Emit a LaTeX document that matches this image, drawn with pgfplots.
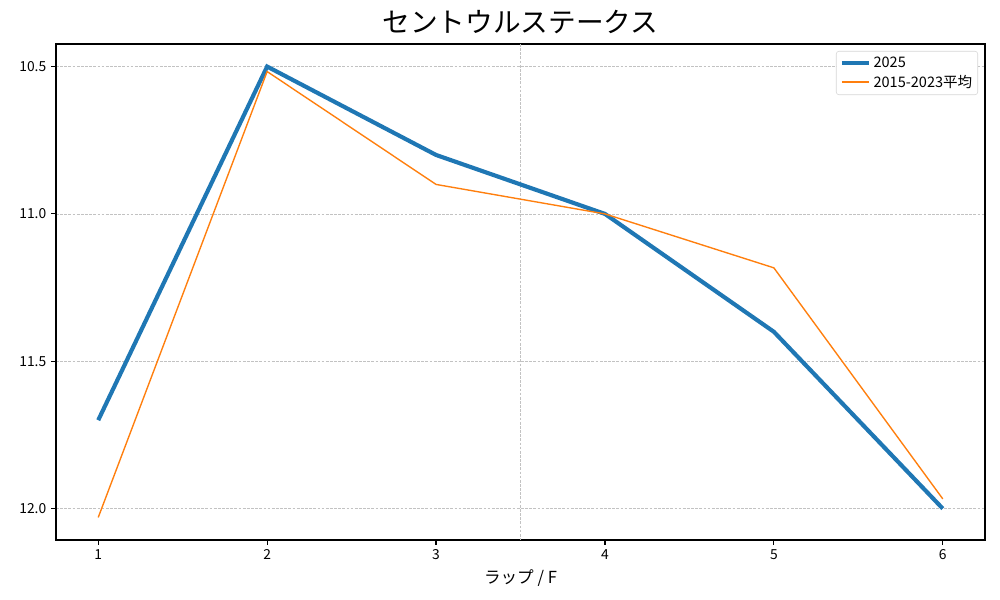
\documentclass[border=0pt]{standalone}
\usepackage{fontspec}
\setmainfont{Noto Sans CJK JP}
\usepackage{pgfplots}
\pgfplotsset{compat=1.18}
\definecolor{cA}{HTML}{1F77B4}
\definecolor{cB}{HTML}{FF7F0E}
\definecolor{gridc}{HTML}{C2C2C2}
\definecolor{legc}{HTML}{D6D6D6}
\begin{document}
\begin{tikzpicture}
\useasboundingbox (-0.56in,-0.60in) rectangle (9.44in,5.40in);
\begin{axis}[
  at={(0,0)}, anchor=south west,
  scale only axis, width=9.29in, height=4.96in,
  xmin=0.75, xmax=6.25, ymin=10.4235, ymax=12.1065,
  y dir=reverse,
  xtick={1,2,3,4,5,6},
  ytick={10.5,11.0,11.5,12.0},
  yticklabel style={/pgf/number format/.cd, fixed, fixed zerofill, precision=1},
  /pgf/number format/assume math mode=true,
  tick label style={font=\fontsize{10}{12}\selectfont},
  tick align=outside, tick pos=left,
  major tick length=3.5pt,
  every tick/.style={black, line width=0.8pt},
  axis line style={line width=0.8pt},
  ymajorgrids=true,
  grid style={gridc, dash pattern=on 2pt off 1pt, line width=0.5pt},
  extra x ticks={3.5}, extra x tick labels={},
  extra x tick style={xmajorgrids=true, major tick length=0pt},
  title={セントウルステークス},
  title style={font=\fontsize{20}{24}\selectfont, yshift=-2pt},
  xlabel={ラップ / F},
  xlabel style={font=\fontsize{12}{14}\selectfont, yshift=3pt},
  legend style={at={(0.9925,0.986)}, anchor=north east, draw=legc, rounded corners=2pt,
    font=\fontsize{10.5}{12}\selectfont, inner sep=2.5pt, row sep=1pt,
    nodes={inner sep=1.5pt}},
  legend cell align=left,
]
\addplot[cA, line width=3pt,
  legend image code/.code={\draw[cA, line width=3pt] (0pt,0pt) -- (20pt,0pt);}]
  coordinates {(1,11.70) (2,10.50) (3,10.80) (4,11.00) (5,11.40) (6,12.00)};
\addlegendentry{2025}
\addplot[cB, line width=1pt,
  legend image code/.code={\draw[cB, line width=1pt] (0pt,0pt) -- (20pt,0pt);}]
  coordinates {(1,12.03) (2,10.517) (3,10.90) (4,11.00) (5,11.183) (6,11.967)};
\addlegendentry{2015-2023平均}
\end{axis}
\end{tikzpicture}
\end{document}
